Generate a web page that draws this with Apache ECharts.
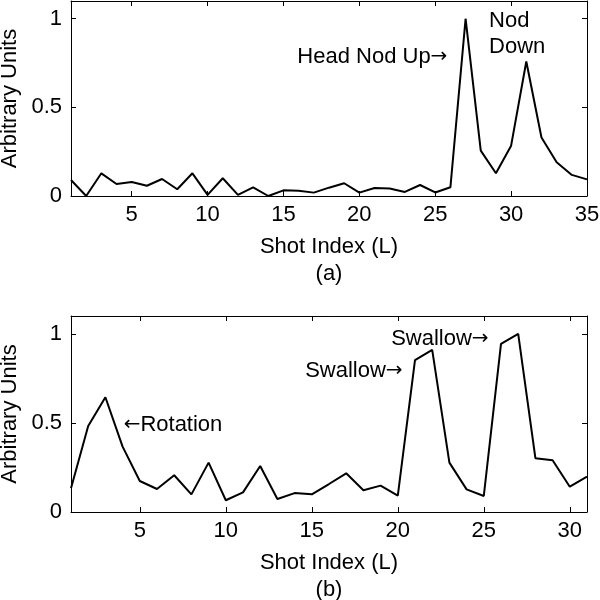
<!DOCTYPE html>
<html>
<head>
<meta charset="utf-8">
<script src="https://cdn.jsdelivr.net/npm/echarts@6/dist/echarts.min.js"></script>
<style>
html, body { margin: 0; padding: 0; background: #fff; }
#chart { width: 600px; height: 600px; }
</style>
</head>
<body>
<div id="chart"></div>
<script>
// panel (a): head nod
const shotsA = [1, 2, 3, 4, 5, 6, 7, 8, 9, 10, 11, 12, 13, 14, 15, 16, 17, 18, 19, 20,
    21, 22, 23, 24, 25, 26, 27, 28, 29, 30, 31, 32, 33, 34, 35]
const valuesA = [0.09, 0, 0.128, 0.068, 0.079, 0.058, 0.096, 0.038, 0.128, 0.006,
    0.1, 0.006, 0.049, 0, 0.032, 0.03, 0.019, 0.047, 0.072, 0.019,
    0.045, 0.042, 0.023, 0.062, 0.02, 0.049, 1.0, 0.256, 0.128, 0.284,
    0.759, 0.33, 0.19, 0.119, 0.094]
// panel (b): rotation and swallows
const shotsB = [1, 2, 3, 4, 5, 6, 7, 8, 9, 10, 11, 12, 13, 14, 15, 16, 17, 18, 19, 20,
    21, 22, 23, 24, 25, 26, 27, 28, 29, 30, 31]
const valuesB = [0.133, 0.483, 0.644, 0.367, 0.174, 0.129, 0.206, 0.099, 0.277, 0.066,
    0.11, 0.258, 0.073, 0.106, 0.099, 0.157, 0.217, 0.122, 0.148, 0.092,
    0.852, 0.91, 0.277, 0.127, 0.09, 0.944, 1.0, 0.302, 0.29, 0.142, 0.198]

// annotations: [text, x, y, side]  ({r|..} = right arrow, {l|..} = left arrow)
const notesA = [
    ["Head Nod Up{r|→}", 25.8, 0.785, "left"],
    ["Nod\nDown", 28.55, 0.915, "right"],
]
const notesB = [
    ["{l|←}Rotation", 4.06, 0.489, "right"],
    ["Swallow{r|→}", 20.28, 0.794, "left"],
    ["Swallow{r|→}", 25.28, 0.972, "left"],
]

const FONT = "Liberation Sans"
const FS = 22
const black = "#000"

function xAxes(grid, min, max, label) {
    let base = {
        gridIndex: grid, type: "value", min: min, max: max,
        minInterval: 5, maxInterval: 5,
        splitLine: { show: false },
        axisLine: { show: true, onZero: false, lineStyle: { color: black, width: 1 } },
        axisTick: { show: true, inside: true, length: 5, lineStyle: { color: black } },
    }
    return [
        Object.assign({}, base, {
            position: "bottom",
            name: "Shot Index (L)\n" + label,
            nameLocation: "middle",
            nameGap: 37,
            nameTextStyle: { fontFamily: FONT, fontSize: FS, color: black, lineHeight: 27 },
            axisLabel: { fontFamily: FONT, fontSize: FS, color: black, margin: 8,
                showMinLabel: false, showMaxLabel: max % 5 === 0 },
        }),
        Object.assign({}, base, { position: "top", axisLabel: { show: false } }),
    ]
}

function yAxes(grid) {
    let base = {
        gridIndex: grid, type: "value", min: 0, max: 1.1, interval: 0.5,
        splitLine: { show: false },
        axisLine: { show: true, onZero: false, lineStyle: { color: black, width: 1 } },
        axisTick: { show: true, inside: true, length: 5, lineStyle: { color: black } },
    }
    return [
        Object.assign({}, base, {
            position: "left",
            name: "Arbitrary Units",
            nameLocation: "middle",
            nameGap: 45,
            nameTextStyle: { fontFamily: FONT, fontSize: FS, color: black },
            axisLabel: { fontFamily: FONT, fontSize: FS, color: black, margin: 9, showMaxLabel: false },
        }),
        Object.assign({}, base, { position: "right", axisLabel: { show: false } }),
    ]
}

function notes(list) {
    return list.map(n => ({
        coord: [n[1], n[2]],
        symbol: "circle",
        symbolSize: 0,
        label: {
            show: true,
            formatter: n[0],
            position: n[3],
            distance: 0,
            fontFamily: FONT,
            fontSize: FS,
            color: black,
            lineHeight: 26,
            align: n[3] === "left" ? "right" : "left",
            rich: {
                r: { fontFamily: "DejaVu Sans", fontSize: FS - 2, color: black },
                l: { fontFamily: "DejaVu Sans", fontSize: FS - 2, color: black },
            },
        },
    }))
}

function series(xs, ys, axis, marks) {
    return {
        type: "line",
        xAxisIndex: axis, yAxisIndex: axis,
        data: xs.map((x, i) => [x, ys[i]]),
        showSymbol: false,
        lineStyle: { color: black, width: 2 },
        itemStyle: { color: black },
        markPoint: { silent: true, data: notes(marks) },
    }
}

const chart = echarts.init(document.getElementById("chart"), null, { renderer: "canvas" })
chart.setOption({
    animation: false,
    backgroundColor: "#fff",
    grid: [
        { left: 71, right: 13, top: 1, height: 195, outerBoundsMode: "none" },
        { left: 71, right: 13, top: 316, height: 196, outerBoundsMode: "none" },
    ],
    xAxis: [].concat(xAxes(0, 1, 35, "(a)"), xAxes(1, 1, 31, "(b)")),
    yAxis: [].concat(yAxes(0), yAxes(1)),
    series: [
        series(shotsA, valuesA, 0, notesA),
        series(shotsB, valuesB, 2, notesB),
    ],
})
</script>
</body>
</html>
